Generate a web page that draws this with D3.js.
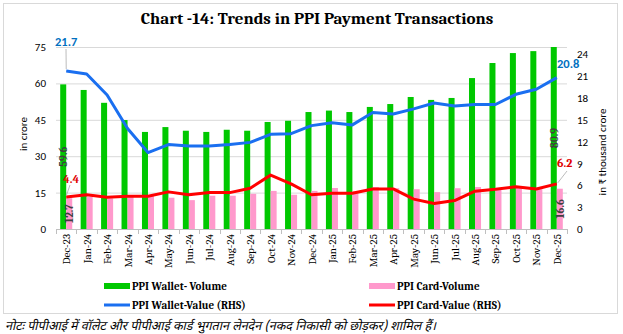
<!DOCTYPE html>
<html><head><meta charset="utf-8">
<script src="https://cdn.jsdelivr.net/npm/d3@7"></script>
<style>body{margin:0;background:#fff}svg{display:block}</style>
</head><body><div id="c"></div>
<script>
const months = ["Dec-23","Jan-24","Feb-24","Mar-24","Apr-24","May-24","Jun-24","Jul-24","Aug-24","Sep-24","Oct-24","Nov-24","Dec-24","Jan-25","Feb-25","Mar-25","Apr-25","May-25","Jun-25","Jul-25","Aug-25","Sep-25","Oct-25","Nov-25","Dec-25"];
const walletVolume = [59.6,57.3,52.0,44.9,40.0,42.0,40.5,40.0,40.9,40.5,44.1,44.6,48.2,48.8,48.2,50.3,51.5,54.4,53.2,54.0,62.2,68.4,72.5,73.3,80.9];
const cardVolume = [12.7,13.3,12.6,13.3,13.6,12.9,11.9,13.7,13.7,14.5,15.7,14.1,15.7,16.9,15.5,17.3,16.8,16.4,15.2,16.8,17.3,16.4,17.3,16.4,16.6];
const walletValue = [21.7,21.3,18.4,13.8,10.5,11.6,11.4,11.4,11.6,11.9,13.0,13.1,14.2,14.6,14.3,16.0,15.8,16.5,17.3,16.9,17.1,17.1,18.5,19.2,20.8];
const cardValue = [4.4,4.7,4.35,4.5,4.5,5.1,4.7,5.0,5.0,5.6,7.4,6.2,4.7,4.9,4.9,5.5,5.5,4.1,3.5,3.9,5.2,5.45,5.8,5.5,6.2];
const leftTicks = [0,15,30,45,60,75];
const rightTicks = [0,3,6,9,12,15,18,21,24];
const title = "Chart -14: Trends in PPI Payment Transactions";
const note = "नोटः पीपीआई में वॉलेट और पीपीआई कार्ड भुगतान लेनदेन (नकद निकासी को छोड़कर) शामिल हैं।";

const W=623,H=334;
const C={green:"#00c800",pink:"#ff99cc",blue:"#1a6ff0",red:"#ff0000",grid:"#d9d9d9",axis:"#bfbfbf",lab:"#404040"};
const svg=d3.select("#c").append("svg").attr("width",W).attr("height",H);
const serif="Cambria, 'Liberation Serif', 'DejaVu Serif', serif";
const sans="Carlito, Calibri, 'Liberation Sans', Arial, sans-serif";

svg.append("rect").attr("x",3.5).attr("y",3.5).attr("width",614).attr("height",310).attr("fill","#fff").attr("stroke",C.grid);

svg.append("text").attr("x",317).attr("y",24).attr("text-anchor","middle")
  .attr("font-family",serif).attr("font-weight","bold").attr("font-size",17).attr("fill","#000").text(title);

const x=d3.scaleBand().domain(months).range([56,567]);
const xs=d3.scaleBand().domain(["w","c"]).range([0,x.bandwidth()]).paddingOuter(0.7);
const yL=d3.scaleLinear().domain([0,75]).range([229,47]).clamp(true);
const yR=d3.scaleLinear().domain([0,25]).range([229,47]);

// grid
svg.append("g").selectAll("line").data(leftTicks.slice(1)).join("line")
  .attr("x1",56).attr("x2",567).attr("y1",d=>yL(d)+0.5).attr("y2",d=>yL(d)+0.5).attr("stroke",C.grid);

// left axis
const gL=svg.append("g").attr("transform","translate(56,0)")
  .call(d3.axisLeft(yL).tickValues(leftTicks).tickSize(0).tickPadding(10));
gL.select(".domain").remove();
gL.selectAll("text").attr("font-family",sans).attr("font-size",11).attr("fill","#000");
// right axis
const gR=svg.append("g").attr("transform","translate(567,0)")
  .call(d3.axisRight(yR).tickValues(rightTicks).tickSize(0).tickPadding(10));
gR.select(".domain").remove();
gR.selectAll("text").attr("font-family",sans).attr("font-size",11).attr("fill","#000");

// bars
svg.append("g").selectAll("rect").data(months).join("rect")
  .attr("x",d=>x(d)+xs("w")).attr("width",xs.bandwidth())
  .attr("y",(d,i)=>yL(walletVolume[i])).attr("height",(d,i)=>yL(0)-yL(walletVolume[i])).attr("fill",C.green);
svg.append("g").selectAll("rect").data(months).join("rect")
  .attr("x",d=>x(d)+xs("c")).attr("width",xs.bandwidth())
  .attr("y",(d,i)=>yL(cardVolume[i])).attr("height",(d,i)=>yL(0)-yL(cardVolume[i])).attr("fill",C.pink);

// x axis
const gX=svg.append("g").attr("transform","translate(0,229)");
gX.append("line").attr("x1",56).attr("x2",567).attr("y1",0.5).attr("y2",0.5).attr("stroke",C.axis);
gX.selectAll("line.t").data(months.concat(["end"])).join("line").attr("class","t")
  .attr("x1",(d,i)=>Math.round(56+i*x.step())+0.5).attr("x2",(d,i)=>Math.round(56+i*x.step())+0.5)
  .attr("y1",0).attr("y2",5).attr("stroke",C.axis);
gX.selectAll("text").data(months).join("text")
  .attr("transform",d=>`translate(${x(d)+x.bandwidth()/2+4},5) rotate(-90)`)
  .attr("text-anchor","end").attr("font-family",serif).attr("font-size",11).attr("fill","#000").text(d=>d);

// lines
const ln=arr=>d3.line().x((d,i)=>x(months[i])+x.bandwidth()/2).y(d=>yR(d)).curve(d3.curveLinear)(arr);
svg.append("path").attr("d",ln(walletValue)).attr("fill","none").attr("stroke",C.blue).attr("stroke-width",3).attr("stroke-linejoin","round");
svg.append("path").attr("d",ln(cardValue)).attr("fill","none").attr("stroke",C.red).attr("stroke-width",3).attr("stroke-linejoin","round");

// data labels
const last=months.length-1;
const cx=i=>x(months[i])+x.bandwidth()/2;
function vlab(i,val,sub){
  const xx=x(months[i])+xs(sub)+xs.bandwidth()/2;
  const yy=(yL(0)+yL(val))/2;
  svg.append("text").attr("transform",`translate(${xx+4},${yy}) rotate(-90)`).attr("text-anchor","middle")
    .attr("font-family",serif).attr("font-weight","bold").attr("font-size",11).attr("fill",C.lab).text(val.toFixed(1));
}
vlab(0,walletVolume[0],"w"); vlab(0,cardVolume[0],"c");
vlab(last,walletVolume[last],"w"); vlab(last,cardVolume[last],"c");

const leader=(x1,y1,x2,y2)=>svg.append("line").attr("x1",x1).attr("y1",y1).attr("x2",x2).attr("y2",y2).attr("stroke","#a6a6a6").attr("stroke-width",0.75);
leader(66,49,cx(0),yR(walletValue[0])-2);
svg.append("text").attr("x",55).attr("y",46).attr("font-family",sans).attr("font-weight","bold").attr("font-size",12.5).attr("fill","#0070c0").text(walletValue[0].toFixed(1));
leader(70,185,cx(0),yR(cardValue[0])-1);
svg.append("text").attr("x",63).attr("y",183).attr("font-family",serif).attr("font-weight","bold").attr("font-size",12).attr("fill","#e00000").text(cardValue[0].toFixed(1));
svg.append("text").attr("x",557).attr("y",68).attr("font-family",sans).attr("font-weight","bold").attr("font-size",12.5).attr("fill","#0070c0").text(walletValue[last].toFixed(1));
leader(567,171,cx(last)+1,yR(cardValue[last])-1);
svg.append("text").attr("x",557).attr("y",167).attr("font-family",serif).attr("font-weight","bold").attr("font-size",12).attr("fill","#e00000").text(cardValue[last].toFixed(1));

// axis titles
svg.append("text").attr("transform","translate(27,134) rotate(-90)").attr("text-anchor","middle")
  .attr("font-family",sans).attr("font-size",11).attr("fill","#000").text("in crore");
svg.append("text").attr("transform","translate(606,152) rotate(-90)").attr("text-anchor","middle")
  .attr("font-family",sans).attr("font-size",11).attr("fill","#000").text("in ₹ thousand crore");

// legend
const leg=[{t:"PPI Wallet- Volume",c:C.green,k:"bar",x:104,y:286},{t:"PPI Card-Volume",c:C.pink,k:"bar",x:369,y:286},
  {t:"PPI Wallet-Value (RHS)",c:C.blue,k:"line",x:104,y:305},{t:"PPI Card-Value (RHS)",c:C.red,k:"line",x:369,y:305}];
const lg=svg.append("g").selectAll("g").data(leg).join("g").attr("transform",d=>`translate(${d.x},${d.y})`);
lg.filter(d=>d.k==="bar").append("rect").attr("x",0).attr("y",-3).attr("width",26).attr("height",6).attr("fill",d=>d.c);
lg.filter(d=>d.k==="line").append("line").attr("x1",0).attr("x2",26).attr("y1",0).attr("y2",0).attr("stroke",d=>d.c).attr("stroke-width",3);
lg.append("text").attr("x",28).attr("y",4).attr("font-family",serif).attr("font-weight","bold").attr("font-size",11).attr("fill","#000").text(d=>d.t);

// note
svg.append("text").attr("x",5).attr("y",330).attr("font-family","'Noto Sans Devanagari','Noto Serif Devanagari','Lohit Devanagari','Noto Sans',sans-serif")
  .attr("font-style","italic").attr("font-size",12.5).attr("fill","#000").text(note);
</script></body></html>
